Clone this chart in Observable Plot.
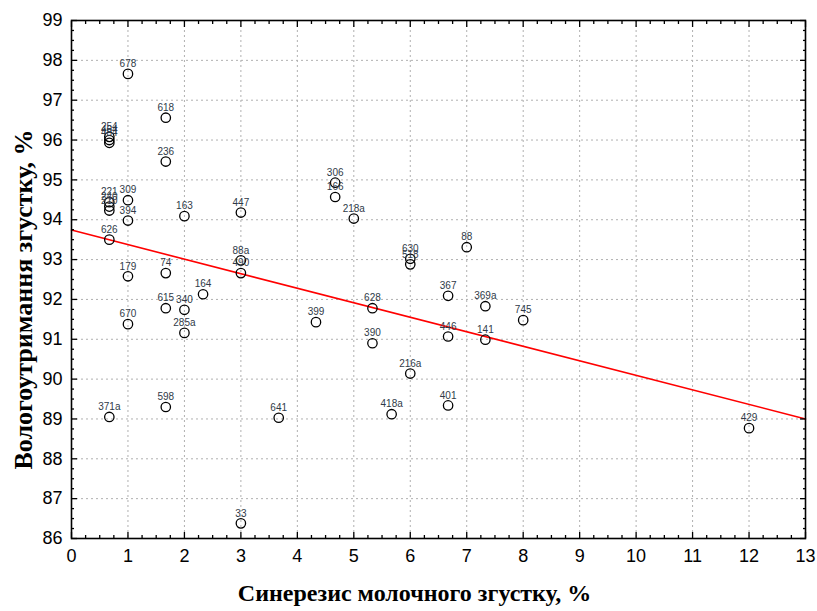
<!DOCTYPE html>
<html>
<head>
<meta charset="utf-8">
<script src="https://cdn.jsdelivr.net/npm/d3@7"></script>
<script src="https://cdn.jsdelivr.net/npm/@observablehq/plot@0.6"></script>
<style>
  html, body { margin: 0; padding: 0; background: #fff; }
</style>
</head>
<body>
<div id="chart"></div>
<script>
const ids = ["678","618","254","464","484","236","309","221","240","210","394","163","447","626","179","74","88a","490","164","615","340","670","285a","598","371a","306","166","218a","630","518","88","367","369a","745","628","399","390","446","141","216a","401","418a","641","33","429"];
const syneresis = [1,1.67,0.67,0.67,0.67,1.67,1,0.67,0.67,0.67,1,2,3,0.67,1,1.67,3,3,2.33,1.67,2,1,2,1.67,0.67,4.67,4.67,5,6,6,7,6.67,7.33,8,5.33,4.33,5.33,6.67,7.33,6,6.67,5.67,3.67,3,12];
const moisture = [97.66,96.56,96.08,96.0,95.93,95.46,94.49,94.44,94.33,94.23,93.98,94.09,94.18,93.5,92.58,92.66,92.98,92.66,92.13,91.78,91.74,91.38,91.16,89.3,89.05,94.93,94.57,94.03,93.02,92.88,93.31,92.09,91.83,91.48,91.78,91.43,90.9,91.07,90.99,90.14,89.34,89.12,89.03,86.38,88.77];
const fitX = [0, 13];
const fitY = [93.74, 89.0];
const xTicks = d3.range(0, 14);
const yTicks = d3.range(86, 100);
const xTitle = "Синерезис молочного згустку, %";
const yTitle = "Вологоутримання згустку, %";

const points = ids.map((id, i) => ({id, x: syneresis[i], y: moisture[i]}));
const fit = fitX.map((x, i) => ({x, y: fitY[i]}));
const xMinor = d3.range(0, 13.001, 0.25).filter(v => !Number.isInteger(v));
const yMinor = d3.range(86, 99.001, 0.25).filter(v => !Number.isInteger(v));

const tickFont = "'Liberation Sans Narrow', 'Liberation Sans', Arial, sans-serif";
const titleFont = "'Liberation Serif', 'Times New Roman', serif";

const chart = Plot.plot({
  width: 817,
  height: 611,
  marginTop: 20,
  marginRight: 12,
  marginBottom: 73,
  marginLeft: 71,
  style: {background: "#fff", fontFamily: tickFont},
  x: {domain: [0, 13], label: null},
  y: {domain: [86, 99], label: null},
  marks: [
    Plot.gridX({ticks: xTicks.slice(1, -1), stroke: "#b0b0b0", strokeOpacity: 1, strokeDasharray: "2,3"}),
    Plot.gridY({ticks: yTicks.slice(1, -1), stroke: "#b0b0b0", strokeOpacity: 1, strokeDasharray: "2,3"}),
    Plot.line(fit, {x: "x", y: "y", stroke: "#ff0000", strokeWidth: 1.6}),
    Plot.dot(points, {x: "x", y: "y", r: 4.7, stroke: "#000", strokeWidth: 1.3, fill: "none"}),
    Plot.text(points, {x: "x", y: "y", text: "id", dy: -10, fontSize: 10, fill: "#2f3a48", fontFamily: "'Liberation Sans', Arial, sans-serif"}),
    Plot.frame({stroke: "#000", strokeWidth: 1.6}),
    // inward ticks, bottom & top
    Plot.axisX({ticks: xTicks, anchor: "bottom", tickSize: -6, text: null, label: null, strokeWidth: 1.3}),
    Plot.axisX({ticks: xMinor, anchor: "bottom", tickSize: -3, text: null, label: null, strokeWidth: 1.3}),
    Plot.axisX({ticks: xTicks, anchor: "top", tickSize: -6, text: null, label: null, strokeWidth: 1.3}),
    Plot.axisX({ticks: xMinor, anchor: "top", tickSize: -3, text: null, label: null, strokeWidth: 1.3}),
    // inward ticks, left & right
    Plot.axisY({ticks: yTicks, anchor: "left", tickSize: -6, text: null, label: null, strokeWidth: 1.3}),
    Plot.axisY({ticks: yMinor, anchor: "left", tickSize: -3, text: null, label: null, strokeWidth: 1.3}),
    Plot.axisY({ticks: yTicks, anchor: "right", tickSize: -6, text: null, label: null, strokeWidth: 1.3}),
    Plot.axisY({ticks: yMinor, anchor: "right", tickSize: -3, text: null, label: null, strokeWidth: 1.3}),
    // tick labels
    Plot.axisX({ticks: xTicks, anchor: "bottom", tickSize: 0, tickPadding: 11, label: null, fontSize: 18, fill: "#000", fontFamily: tickFont}),
    Plot.axisY({ticks: yTicks, anchor: "left", tickSize: 0, tickPadding: 9, label: null, fontSize: 18, fill: "#000", fontFamily: tickFont}),
    // titles
    Plot.text([xTitle], {frameAnchor: "bottom", textAnchor: "middle", dy: 62, dx: -24, fontSize: 24, fontWeight: "bold", fontFamily: titleFont, fill: "#000"}),
    Plot.text([yTitle], {frameAnchor: "left", textAnchor: "middle", rotate: -90, dx: -48, dy: 20, fontSize: 26, fontWeight: "bold", fontFamily: titleFont, fill: "#000"})
  ]
});
document.getElementById("chart").appendChild(chart);
</script>
</body>
</html>
